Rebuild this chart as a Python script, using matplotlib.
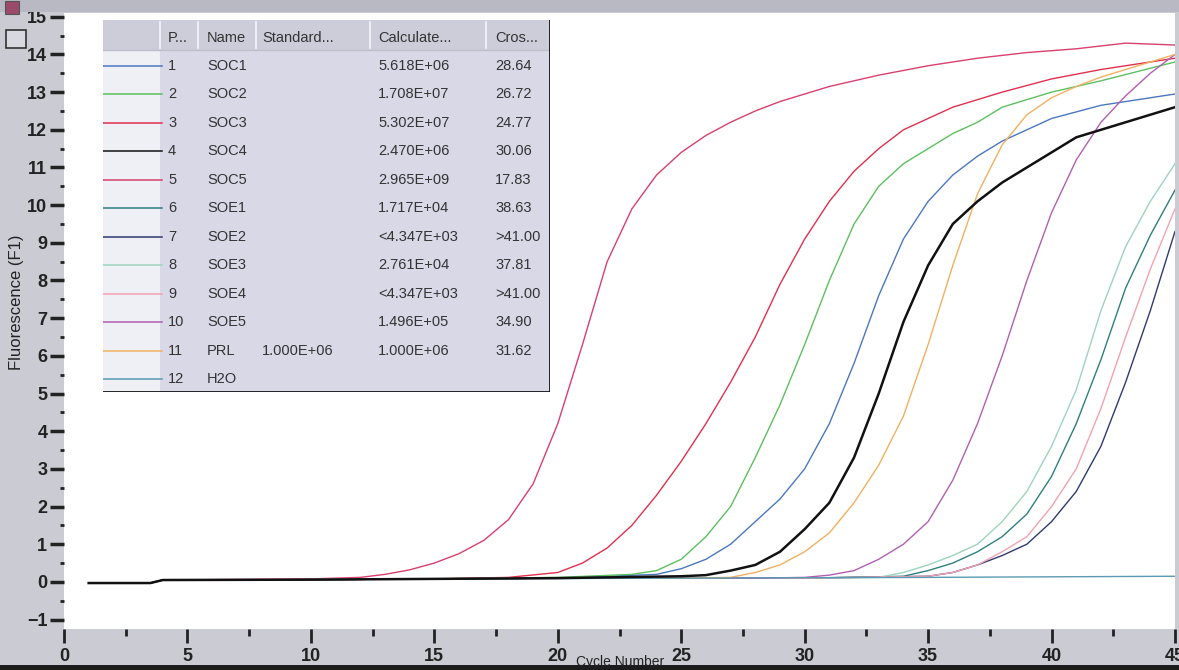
import matplotlib
matplotlib.use("Agg")
import matplotlib.pyplot as plt
from matplotlib.patches import Rectangle
from matplotlib.ticker import MultipleLocator

W, H = 1179, 670

# run names / table values
pos = ["1", "2", "3", "4", "5", "6", "7", "8", "9", "10", "11", "12"]
names = ["SOC1", "SOC2", "SOC3", "SOC4", "SOC5", "SOE1", "SOE2", "SOE3", "SOE4", "SOE5", "PRL", "H2O"]
standard = ["", "", "", "", "", "", "", "", "", "", "1.000E+06", ""]
calculated = ["5.618E+06", "1.708E+07", "5.302E+07", "2.470E+06", "2.965E+09", "1.717E+04",
              "<4.347E+03", "2.761E+04", "<4.347E+03", "1.496E+05", "1.000E+06", ""]
crossing = ["28.64", "26.72", "24.77", "30.06", "17.83", "38.63", ">41.00", "37.81", ">41.00",
            "34.90", "31.62", ""]
colors = ["#4a78c0", "#5cc060", "#e0304e", "#111111", "#d8406e", "#2e7f80",
          "#2f3a72", "#9ed4bc", "#f2a2b2", "#b060b0", "#f2b060", "#5a9ab2"]

# amplification curves (cycle, fluorescence)
soc1_x = [1, 3.5, 4, 10, 15, 20, 24, 25, 26, 27, 28, 29, 30, 31, 32, 33, 34, 35, 36, 37, 38, 40, 42, 45]
soc1_y = [-0.03, -0.03, 0.05, 0.06, 0.08, 0.1, 0.2, 0.35, 0.6, 1.0, 1.6, 2.2, 3.0, 4.2, 5.8, 7.6, 9.1,
          10.1, 10.8, 11.3, 11.7, 12.3, 12.65, 12.95]
soc2_x = [1, 3.5, 4, 10, 15, 20, 23, 24, 25, 26, 27, 28, 29, 30, 31, 32, 33, 34, 35, 36, 37, 38, 39, 40,
          42, 45]
soc2_y = [-0.03, -0.03, 0.05, 0.06, 0.08, 0.12, 0.2, 0.3, 0.6, 1.2, 2.0, 3.3, 4.7, 6.3, 8.0, 9.5, 10.5,
          11.1, 11.5, 11.9, 12.2, 12.6, 12.8, 13.0, 13.3, 13.8]
soc3_x = [1, 3.5, 4, 10, 15, 18, 20, 21, 22, 23, 24, 25, 26, 27, 28, 29, 30, 31, 32, 33, 34, 35, 36, 38,
          40, 42, 45]
soc3_y = [-0.03, -0.03, 0.05, 0.06, 0.08, 0.12, 0.25, 0.5, 0.9, 1.5, 2.3, 3.2, 4.2, 5.3, 6.5, 7.9, 9.1,
          10.1, 10.9, 11.5, 12.0, 12.3, 12.6, 13.0, 13.35, 13.6, 13.9]
soc4_x = [1, 3.5, 4, 10, 15, 20, 25, 26, 27, 28, 29, 30, 31, 32, 33, 34, 35, 36, 37, 38, 39, 40, 41, 42,
          43, 44, 45]
soc4_y = [-0.03, -0.03, 0.05, 0.06, 0.08, 0.1, 0.15, 0.18, 0.3, 0.45, 0.8, 1.4, 2.1, 3.3, 5.0, 6.9, 8.4,
          9.5, 10.1, 10.6, 11.0, 11.4, 11.8, 12.0, 12.2, 12.4, 12.6]
soc5_x = [1, 3.5, 4, 10, 12, 13, 14, 15, 16, 17, 18, 19, 20, 21, 22, 23, 24, 25, 26, 27, 28, 29, 30, 31,
          32, 33, 35, 37, 39, 41, 43, 45]
soc5_y = [-0.03, -0.03, 0.05, 0.08, 0.12, 0.2, 0.32, 0.5, 0.75, 1.1, 1.65, 2.6, 4.2, 6.3, 8.5, 9.9,
          10.8, 11.4, 11.85, 12.2, 12.5, 12.75, 12.95, 13.15, 13.3, 13.45, 13.7, 13.9, 14.05, 14.15,
          14.3, 14.25]
soe1_x = [1, 3.5, 4, 10, 15, 20, 30, 34, 35, 36, 37, 38, 39, 40, 41, 42, 43, 44, 45]
soe1_y = [-0.03, -0.03, 0.05, 0.06, 0.08, 0.1, 0.1, 0.15, 0.3, 0.5, 0.8, 1.2, 1.8, 2.8, 4.2, 5.9, 7.8,
          9.2, 10.4]
soe2_x = [1, 3.5, 4, 10, 15, 20, 30, 35, 36, 37, 38, 39, 40, 41, 42, 43, 44, 45]
soe2_y = [-0.03, -0.03, 0.05, 0.06, 0.08, 0.1, 0.1, 0.15, 0.25, 0.45, 0.7, 1.0, 1.6, 2.4, 3.6, 5.3, 7.2,
          9.3]
soe3_x = [1, 3.5, 4, 10, 15, 20, 30, 33, 34, 35, 36, 37, 38, 39, 40, 41, 42, 43, 44, 45]
soe3_y = [-0.03, -0.03, 0.05, 0.06, 0.08, 0.1, 0.1, 0.12, 0.25, 0.45, 0.7, 1.0, 1.6, 2.4, 3.6, 5.1, 7.2,
          8.9, 10.1, 11.1]
soe4_x = [1, 3.5, 4, 10, 15, 20, 30, 35, 36, 37, 38, 39, 40, 41, 42, 43, 44, 45]
soe4_y = [-0.03, -0.03, 0.05, 0.06, 0.08, 0.1, 0.1, 0.15, 0.25, 0.45, 0.8, 1.2, 2.0, 3.0, 4.6, 6.5, 8.3,
          9.9]
soe5_x = [1, 3.5, 4, 10, 15, 20, 28, 30, 31, 32, 33, 34, 35, 36, 37, 38, 39, 40, 41, 42, 43, 44, 45]
soe5_y = [-0.03, -0.03, 0.05, 0.06, 0.08, 0.1, 0.1, 0.12, 0.18, 0.3, 0.6, 1.0, 1.6, 2.7, 4.2, 6.0, 8.0,
          9.8, 11.2, 12.2, 12.9, 13.5, 14.0]
prl_x = [1, 3.5, 4, 10, 15, 20, 25, 27, 28, 29, 30, 31, 32, 33, 34, 35, 36, 37, 38, 39, 40, 41, 42, 43,
         44, 45]
prl_y = [-0.03, -0.03, 0.05, 0.06, 0.08, 0.1, 0.1, 0.12, 0.25, 0.45, 0.8, 1.3, 2.1, 3.1, 4.4, 6.3, 8.4,
         10.3, 11.6, 12.4, 12.85, 13.15, 13.4, 13.6, 13.8, 14.0]
h2o_x = [1, 3.5, 4, 10, 15, 25, 35, 45]
h2o_y = [-0.03, -0.03, 0.05, 0.06, 0.08, 0.1, 0.12, 0.15]

curves = [(soc1_x, soc1_y), (soc2_x, soc2_y), (soc3_x, soc3_y), (soc4_x, soc4_y),
          (soc5_x, soc5_y), (soe1_x, soe1_y), (soe2_x, soe2_y), (soe3_x, soe3_y),
          (soe4_x, soe4_y), (soe5_x, soe5_y), (prl_x, prl_y), (h2o_x, h2o_y)]

plt.rcParams['font.family'] = ['Liberation Sans Narrow', 'Liberation Sans', 'DejaVu Sans']

fig = plt.figure(figsize=(W / 100, H / 100), dpi=100)
fig.patch.set_facecolor("#cbcbd4")

# window strips
fig.patches.append(Rectangle((0, 1 - 12 / H), 1, 12 / H, transform=fig.transFigure,
                             facecolor="#b9b9c3", edgecolor="none", zorder=0))
fig.patches.append(Rectangle((0, 0), 1, 5 / H, transform=fig.transFigure,
                             facecolor="#1c1c1c", edgecolor="none", zorder=0))
fig.patches.append(Rectangle((5 / W, 1 - 14 / H), 14 / W, 13 / H, transform=fig.transFigure,
                             facecolor="#9a4a6a", edgecolor="#555", lw=0.8, zorder=1))
fig.patches.append(Rectangle((6 / W, 1 - 48 / H), 20 / W, 18 / H, transform=fig.transFigure,
                             facecolor="#d8d8e0", edgecolor="#333", lw=1.2, zorder=1))

top_px, bot_px, left_px, right_px = 13, 629, 64, 1175
ax = fig.add_axes([left_px / W, 1 - bot_px / H, (right_px - left_px) / W, (bot_px - top_px) / H])
ax.set_facecolor("white")

for i, (cx, cy) in enumerate(curves):
    lw = 1.8 if names[i] == "SOC4" else 1.0
    ax.plot(cx, cy, color=colors[i], lw=lw, zorder=3 if names[i] == "SOC4" else 2)

ax.set_xlim(0, 45)
ax.set_ylim(-1.25, 15.1)
for s in ax.spines.values():
    s.set_visible(False)

ax.xaxis.set_major_locator(MultipleLocator(5))
ax.xaxis.set_minor_locator(MultipleLocator(2.5))
ax.yaxis.set_major_locator(MultipleLocator(1))
ax.yaxis.set_minor_locator(MultipleLocator(0.5))
ax.tick_params(axis="x", which="major", direction="out", length=10, width=2, color="#222",
               pad=4, labelsize=13, labelcolor="#222")
ax.tick_params(axis="x", which="minor", direction="out", length=5, width=2, color="#222")
ax.tick_params(axis="y", which="major", direction="out", length=10, width=2.5, color="#222",
               pad=2, labelsize=13, labelcolor="#222")
ax.tick_params(axis="y", which="minor", direction="out", length=3, width=2, color="#222")
for lab in ax.get_xticklabels() + ax.get_yticklabels():
    lab.set_fontweight("bold")
ax.set_yticks(range(-1, 16))

fig.text(620 / W, 1 - 662 / H, "Cycle Number", ha="center", va="center", fontsize=10, color="#222")
fig.text(17 / W, 1 - 302 / H, "Fluorescence (F1)", ha="center", va="center", rotation=90,
         fontsize=12, color="#222")

# run table drawn in pixel coordinates
tl, tr, tt, tb = 103, 550, 20, 392
tab = fig.add_axes([tl / W, 1 - tb / H, (tr - tl) / W, (tb - tt) / H])
tab.set_xlim(tl, tr)
tab.set_ylim(tb, tt)
tab.axis("off")
tab.add_patch(Rectangle((tl, tt), tr - tl, tb - tt, facecolor="#d8d8e7", edgecolor="none"))
tab.add_patch(Rectangle((tl, tt + 30), 57, tb - tt - 30, facecolor="#eef0f6", edgecolor="none"))
tab.add_patch(Rectangle((tl, tt), tr - tl, 30, facecolor="#cdcdda", edgecolor="none"))
for sx in [160, 198, 256, 370, 486]:
    tab.plot([sx, sx], [tt + 2, tt + 28], color="#f4f4fa", lw=1.2)
tab.plot([tl, tr], [tt + 30, tt + 30], color="#bfbfcc", lw=1)
tab.plot([tr, tr], [tt, tb], color="#111", lw=2)
tab.plot([tl, tr], [tb, tb], color="#111", lw=2)

heads = [(168, "P..."), (207, "Name"), (262, "Standard..."), (378, "Calculate..."), (495, "Cros...")]
for hx, ht in heads:
    tab.text(hx, 38, ht, ha="left", va="center", fontsize=10.5, color="#333")

row_h = (379 - 66) / 11
for i in range(len(names)):
    ry = 66 + i * row_h
    tab.plot([tl, 162], [ry, ry], color=colors[i], lw=1.1)
    tab.text(168, ry, pos[i], ha="left", va="center", fontsize=10.5, color="#333")
    tab.text(207, ry, names[i], ha="left", va="center", fontsize=10.5, color="#333")
    tab.text(262, ry, standard[i], ha="left", va="center", fontsize=10.5, color="#333")
    tab.text(378, ry, calculated[i], ha="left", va="center", fontsize=10.5, color="#333")
    tab.text(495, ry, crossing[i], ha="left", va="center", fontsize=10.5, color="#333")

fig.savefig("out.png", dpi=100, facecolor=fig.get_facecolor())
